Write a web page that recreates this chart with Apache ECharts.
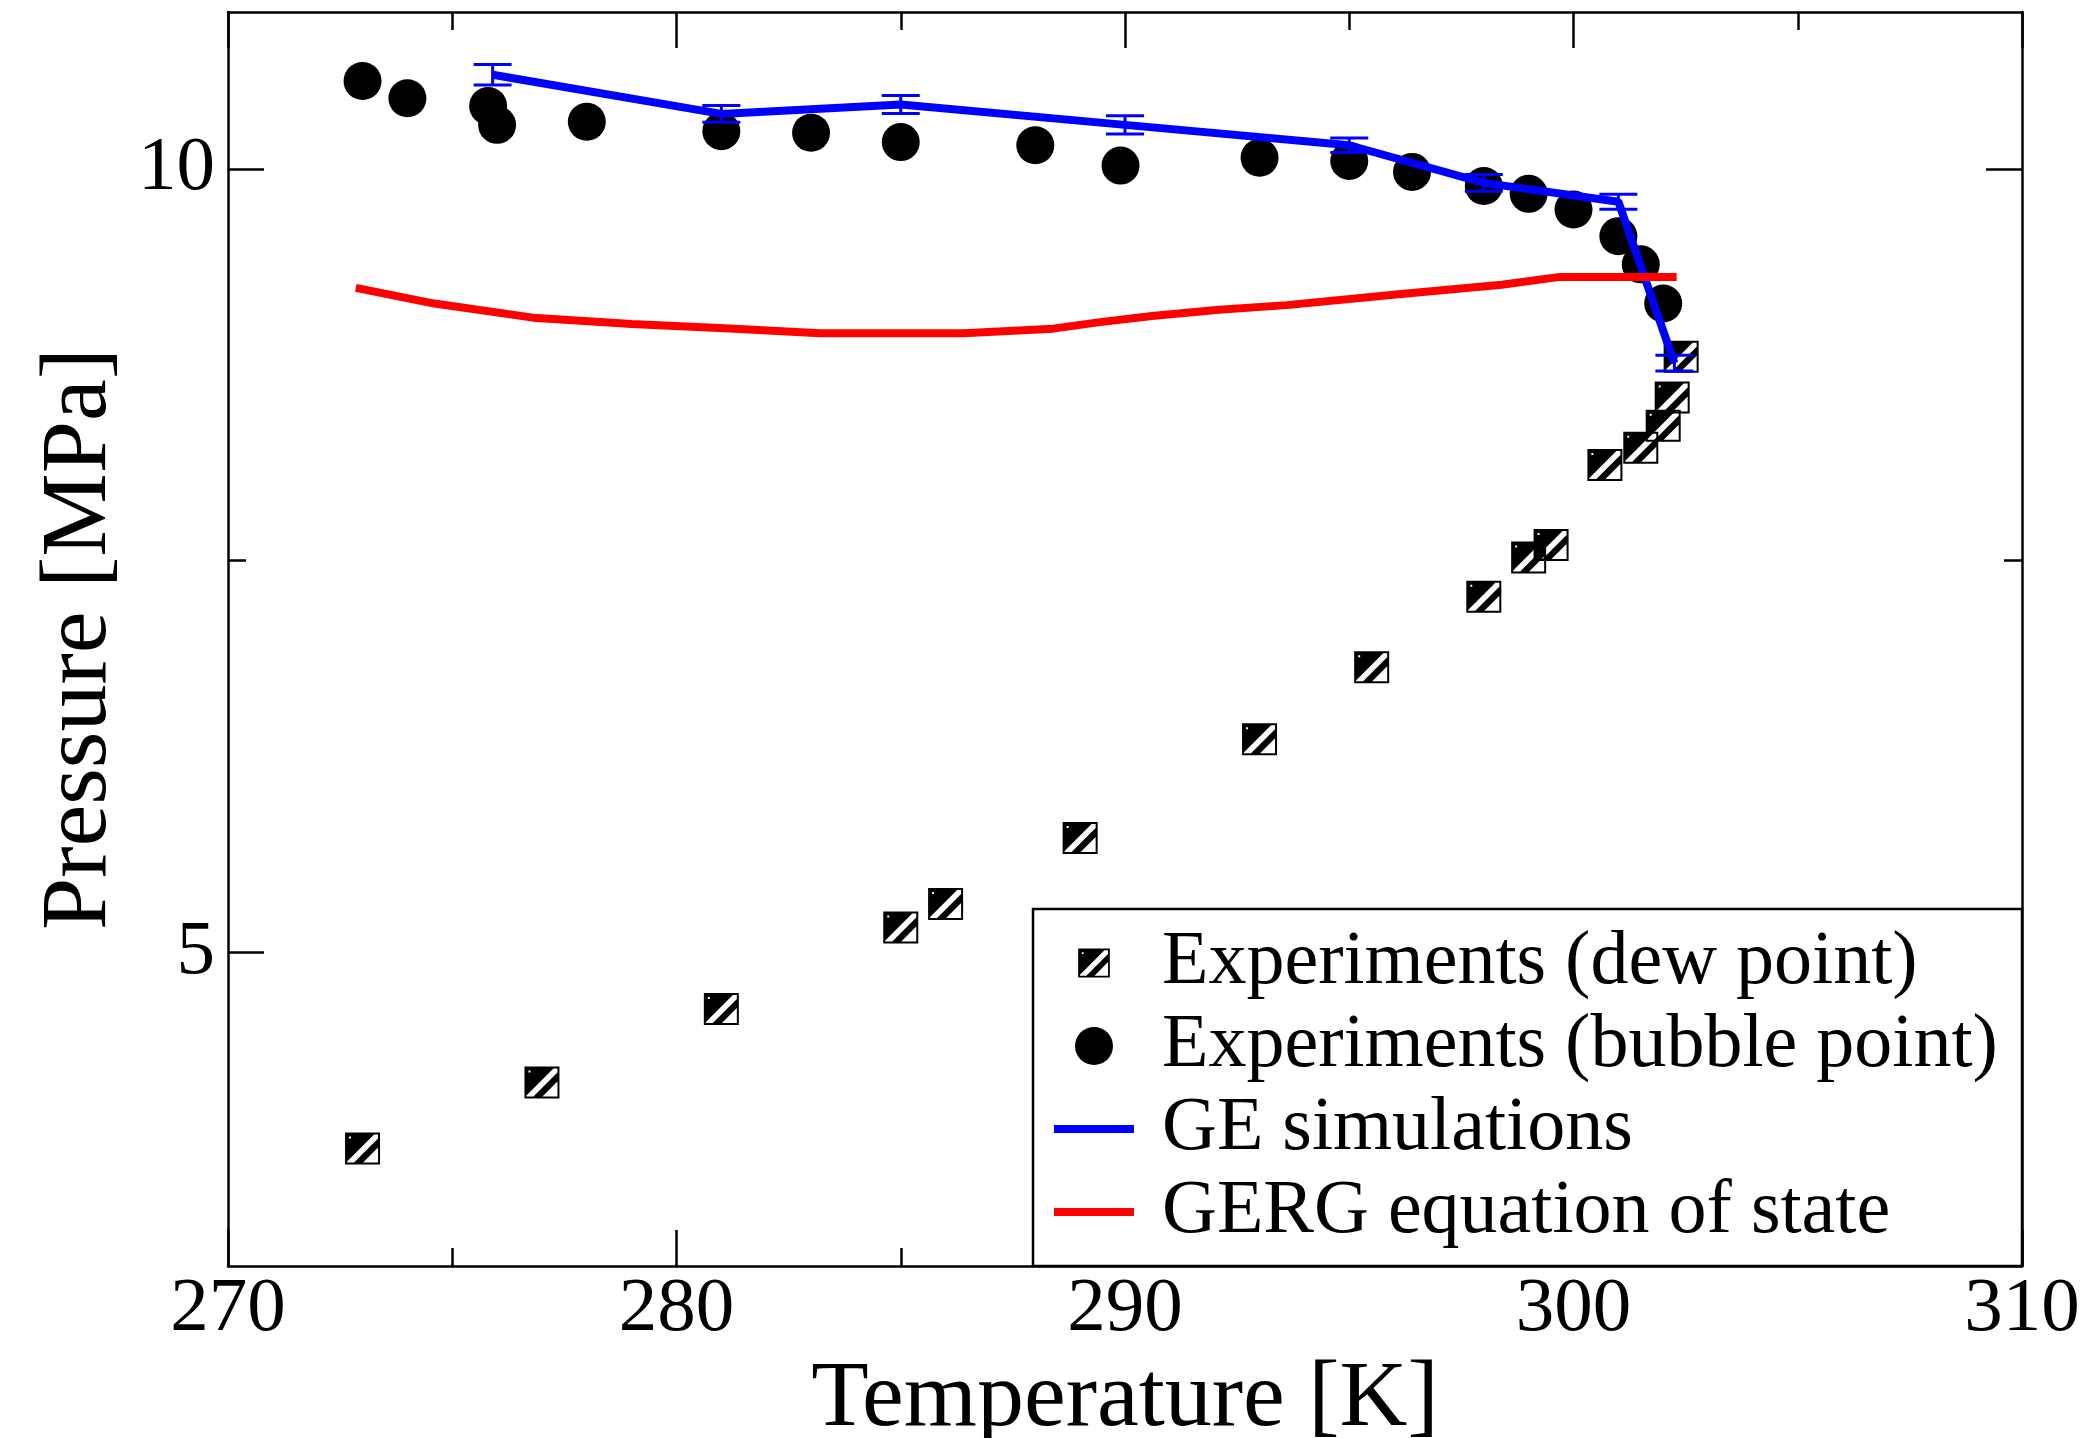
<!DOCTYPE html>
<html><head><meta charset="utf-8">
<script src="https://cdn.jsdelivr.net/npm/echarts@6/dist/echarts.min.js"></script>
<style>html,body{margin:0;padding:0;background:#fff}#c{width:2084px;height:1438px}</style>
</head><body><div id="c"></div>
<script>
// ---- data ----
const dewT = [273, 277, 281, 285, 286, 289, 293, 295.5, 298, 299, 299.5, 300.7, 301.5, 302.0, 302.2, 302.4];
const dewP = [3.75, 4.17, 4.64, 5.16, 5.31, 5.73, 6.36, 6.82, 7.27, 7.52, 7.60, 8.11, 8.22, 8.36, 8.54, 8.80];
const bubbleT = [273, 274, 275.8, 276, 278, 281, 283, 285, 288, 289.9, 293, 295, 296.4, 298, 299, 300, 301, 301.5, 302];
const bubbleP = [10.56, 10.45, 10.40, 10.28, 10.30, 10.24, 10.23, 10.17, 10.15, 10.02, 10.07, 10.05, 9.98, 9.89, 9.84, 9.74, 9.57, 9.39, 9.14];
const geT = [275.9, 281, 285, 290, 295, 298, 301, 302.25];
const geP = [10.60, 10.35, 10.41, 10.28, 10.15, 9.91, 9.79, 8.76];
const geErr = [0.065, 0.053, 0.057, 0.058, 0.046, 0.053, 0.048, 0.05];
const gergT = [272.85, 274.6, 276.8, 279.0, 281.3, 283.2, 286.4, 288.4, 289.4, 290.6, 292.1, 293.6, 296.1, 298.4, 299.7, 302.3];
const gergP = [9.24, 9.14, 9.05, 9.01, 8.98, 8.95, 8.95, 8.98, 9.02, 9.06, 9.10, 9.13, 9.20, 9.26, 9.31, 9.31];
const yMajorTicks = [5, 10];
const yMinorTicks = [7.5];
const seriesNames = ['Experiments (dew point)', 'Experiments (bubble point)', 'GE simulations', 'GERG equation of state'];

const FONT = "'Liberation Serif', 'Times New Roman', serif";
const zip = (a, b) => a.map((v, i) => [v, b[i]]);

// hatched square marker (black with white diagonal band and white corner)
const hatchCore = 'M0 0 L35 0 L35 32 L0 32 Z M2 29 L2 30 L9 30 L33 6 L33 2 L29 2 Z M18 30 L33 30 L33 15 Z M4 4 L4 6 L6 6 L6 4 Z';
const hatchSymbol = 'path://' + hatchCore;
const hatchLegend = 'path://M-4 -5 L-4 -5 Z M39 37 L39 37 Z ' + hatchCore;
const lineLegend = 'path://M0 0 L80 0 L80 8 L0 8 Z';

const axisLineStyle = {color: '#000', width: 2.5};

const chart = echarts.init(document.getElementById('c'));
chart.setOption({
  animation: false,
  backgroundColor: '#fff',
  grid: {left: 228, right: 62, top: 12, bottom: 172, containLabel: false, outerBoundsMode: 'none'},
  xAxis: [
    {
      type: 'value', min: 270, max: 310, interval: 10, position: 'bottom',
      axisLine: {show: true, onZero: false, lineStyle: axisLineStyle},
      axisTick: {show: true, inside: true, length: 36, lineStyle: axisLineStyle},
      minorTick: {show: true, splitNumber: 2, length: 18, lineStyle: axisLineStyle},
      splitLine: {show: false},
      axisLabel: {fontSize: 77, fontFamily: FONT, color: '#000', margin: 44, verticalAlign: 'middle'},
      name: 'Temperature [K]', nameLocation: 'middle', nameGap: 65,
      nameTextStyle: {fontSize: 94, fontFamily: FONT, color: '#000'}
    },
    {
      type: 'value', min: 270, max: 310, interval: 10, position: 'top',
      axisLine: {show: true, onZero: false, lineStyle: axisLineStyle},
      axisTick: {show: true, inside: true, length: 36, lineStyle: axisLineStyle},
      minorTick: {show: true, splitNumber: 2, length: 18, lineStyle: axisLineStyle},
      splitLine: {show: false},
      axisLabel: {show: false}
    }
  ],
  yAxis: [
    {
      type: 'value', min: 3, max: 11, position: 'left',
      axisLine: {show: true, onZero: false, lineStyle: axisLineStyle},
      axisTick: {show: true, inside: true, length: 36, lineStyle: axisLineStyle, customValues: yMajorTicks},
      axisLabel: {fontSize: 77, fontFamily: FONT, color: '#000', margin: 13, customValues: yMajorTicks},
      splitLine: {show: false},
      name: 'Pressure [MPa]', nameLocation: 'middle', nameGap: 100,
      nameTextStyle: {fontSize: 94, fontFamily: FONT, color: '#000'}
    },
    {
      type: 'value', min: 3, max: 11, position: 'right',
      axisLine: {show: true, onZero: false, lineStyle: axisLineStyle},
      axisTick: {show: true, inside: true, length: 36, lineStyle: axisLineStyle, customValues: yMajorTicks},
      axisLabel: {show: false},
      splitLine: {show: false}
    },
    {
      type: 'value', min: 3, max: 11, position: 'left', offset: 0,
      axisLine: {show: false},
      axisTick: {show: true, inside: true, length: 18, lineStyle: axisLineStyle, customValues: yMinorTicks},
      axisLabel: {show: false},
      splitLine: {show: false}
    },
    {
      type: 'value', min: 3, max: 11, position: 'right', offset: 0,
      axisLine: {show: false},
      axisTick: {show: true, inside: true, length: 18, lineStyle: axisLineStyle, customValues: yMinorTicks},
      axisLabel: {show: false},
      splitLine: {show: false}
    }
  ],
  graphic: [{
    type: 'rect', z: 50,
    shape: {x: 1033, y: 909, width: 989, height: 357},
    style: {fill: '#fff', stroke: '#000', lineWidth: 2.5}
  }],
  legend: {
    z: 60, orient: 'vertical', left: 1054, top: 925, padding: 0,
    itemWidth: 80, itemHeight: 38, itemGap: 7,
    textStyle: {fontSize: 76, fontFamily: FONT, color: '#000', padding: [0, 0, 0, 23]},
    data: [
      {name: seriesNames[0], icon: hatchLegend},
      {name: seriesNames[1], icon: 'circle'},
      {name: seriesNames[2], icon: lineLegend},
      {name: seriesNames[3], icon: lineLegend}
    ]
  },
  series: [
    {
      name: seriesNames[0], type: 'scatter', z: 2,
      data: zip(dewT, dewP), symbol: hatchSymbol, symbolSize: [35, 32],
      itemStyle: {color: '#000', opacity: 1}
    },
    {
      name: seriesNames[1], type: 'scatter', z: 3,
      data: zip(bubbleT, bubbleP), symbol: 'circle', symbolSize: 38,
      itemStyle: {color: '#000', opacity: 1}
    },
    {
      name: seriesNames[2], type: 'line', z: 4,
      data: zip(geT, geP), symbol: 'none',
      lineStyle: {color: '#0000ff', width: 8}, itemStyle: {color: '#0000ff'}
    },
    {
      name: 'GE error', type: 'custom', z: 4,
      data: geT.map((t, i) => [t, geP[i] - geErr[i], geP[i] + geErr[i]]),
      encode: {x: 0, y: [1, 2]},
      renderItem: function (params, api) {
        const x = api.value(0);
        const lo = api.coord([x, api.value(1)]);
        const hi = api.coord([x, api.value(2)]);
        const hw = 19;
        const st = {stroke: '#0000ff', lineWidth: 3};
        return {type: 'group', children: [
          {type: 'line', shape: {x1: lo[0], y1: lo[1], x2: hi[0], y2: hi[1]}, style: st},
          {type: 'line', shape: {x1: lo[0] - hw, y1: lo[1], x2: lo[0] + hw, y2: lo[1]}, style: st},
          {type: 'line', shape: {x1: hi[0] - hw, y1: hi[1], x2: hi[0] + hw, y2: hi[1]}, style: st}
        ]};
      }
    },
    {
      name: seriesNames[3], type: 'line', z: 5,
      data: zip(gergT, gergP), symbol: 'none',
      lineStyle: {color: '#ff0000', width: 8}, itemStyle: {color: '#ff0000'}
    }
  ]
});
</script>
</body></html>
